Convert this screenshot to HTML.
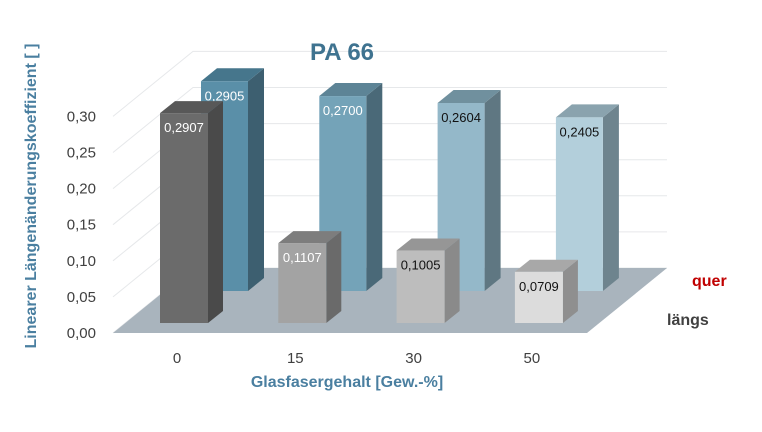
<!DOCTYPE html>
<html><head><meta charset="utf-8"><style>
html,body{margin:0;padding:0;background:#fff;}
svg{display:block;font-family:"Liberation Sans",sans-serif;}
</style></head><body>
<svg id="c" width="762" height="432" viewBox="0 0 762 432"></svg>
<script>
const categories = ["0","15","30","50"];
const laengs = [0.2907, 0.1107, 0.1005, 0.0709];
const quer = [0.2905, 0.2700, 0.2604, 0.2405];
const ticks = [0, 0.05, 0.10, 0.15, 0.20, 0.25, 0.30];
const tickLabels = ["0,00","0,05","0,10","0,15","0,20","0,25","0,30"];
const laengsLabels = ["0,2907","0,1107","0,1005","0,0709"];
const querLabels = ["0,2905","0,2700","0,2604","0,2405"];

const NS="http://www.w3.org/2000/svg";
const svg=document.getElementById('c');
function mk(t,a,txt){const e=document.createElementNS(NS,t);for(const k in a)e.setAttribute(k,a[k]);if(txt!==undefined)e.textContent=txt;svg.appendChild(e);return e;}
const S=722;
const yFront=v=>333-v*S;
const yWall=v=>268-v*S;
const xCat=i=>160+i*118.3;

ticks.forEach((t,i)=>{
  const g=mk('polyline',{points:`113,${yFront(t)} 193,${yWall(t)} 667,${yWall(t)}`,fill:'none',stroke:'#e6e8ea','stroke-width':1});
  
  
  const l=mk('text',{x:96,y:yFront(t)+5,'text-anchor':'end','font-size':15,fill:'#404040'},tickLabels[i]);
  
  
});
const fl=mk('polygon',{points:'113,333 587,333 667,268 193,268',fill:'#a9b4bd'});



function bar(x,base,v,w,dx,dy,cF,cS,cT,lab,tc,name){
  const top=base-v*S;
  const s=mk('polygon',{points:`${x+w},${base} ${x+w+dx},${base+dy} ${x+w+dx},${top+dy} ${x+w},${top}`,fill:cS});
  
  
  const t=mk('polygon',{points:`${x},${top} ${x+dx},${top+dy} ${x+w+dx},${top+dy} ${x+w},${top}`,fill:cT});
  
  
  const f=mk('rect',{x:x,y:top,width:w,height:base-top,fill:cF});
  
  
  const l=mk('text',{x:x+w/2,y:top+19,'text-anchor':'middle','font-size':13,fill:tc},lab);
  
  
}
const qF=['#5a8fa8','#74a3b8','#94b8c9','#b3cfdb'],qS=['#3d5f70','#4a6978','#5f7782','#6e848e'],qT=['#46768c','#5d8496','#70909e','#8aa3ae'],qC=['#fff','#fff','#111','#111'];
const lF=['#6b6b6b','#a3a3a3','#bdbdbd','#dcdcdc'],lS=['#4a4a4a','#6a6a6a','#8a8a8a','#8f8f8f'],lT=['#585858','#7d7d7d','#969696','#a8a8a8'],lC=['#fff','#fff','#111','#111'];
quer.forEach((v,i)=>bar(xCat(i)+41,291,v,47,16,-13,qF[i],qS[i],qT[i],querLabels[i],qC[i],'bar-quer-'+categories[i]));
laengs.forEach((v,i)=>bar(xCat(i),323,v,48,15,-12,lF[i],lS[i],lT[i],laengsLabels[i],lC[i],'bar-laengs-'+categories[i]));
categories.forEach((c,i)=>{
  const l=mk('text',{x:xCat(i)+17,y:363,'text-anchor':'middle','font-size':15,fill:'#404040'},c);
  
  
});
</script>
<div style="position:absolute;left:0;top:0;width:762px;height:432px;pointer-events:none;font-family:'Liberation Sans',sans-serif;">
<div style="position:absolute;left:292px;top:39px;width:100px;text-align:center;font-size:24px;font-weight:bold;color:#3f7390;">PA 66</div>
<div style="position:absolute;left:197px;top:374px;width:300px;text-align:center;font-size:16px;font-weight:bold;color:#4a7fa0;">Glasfasergehalt [Gew.-%]</div>
<div style="position:absolute;left:32px;top:197px;width:340px;margin-left:-170px;margin-top:-10px;text-align:center;font-size:16px;font-weight:bold;color:#4a7fa0;transform:rotate(-90deg);white-space:nowrap;">Linearer Längenänderungskoeffizient [ ]</div>
<div style="position:absolute;left:692px;top:273px;font-size:16px;font-weight:bold;color:#c00000;">quer</div>
<div style="position:absolute;left:667px;top:312px;font-size:16px;font-weight:bold;color:#404040;">längs</div>
</div>
</body></html>
